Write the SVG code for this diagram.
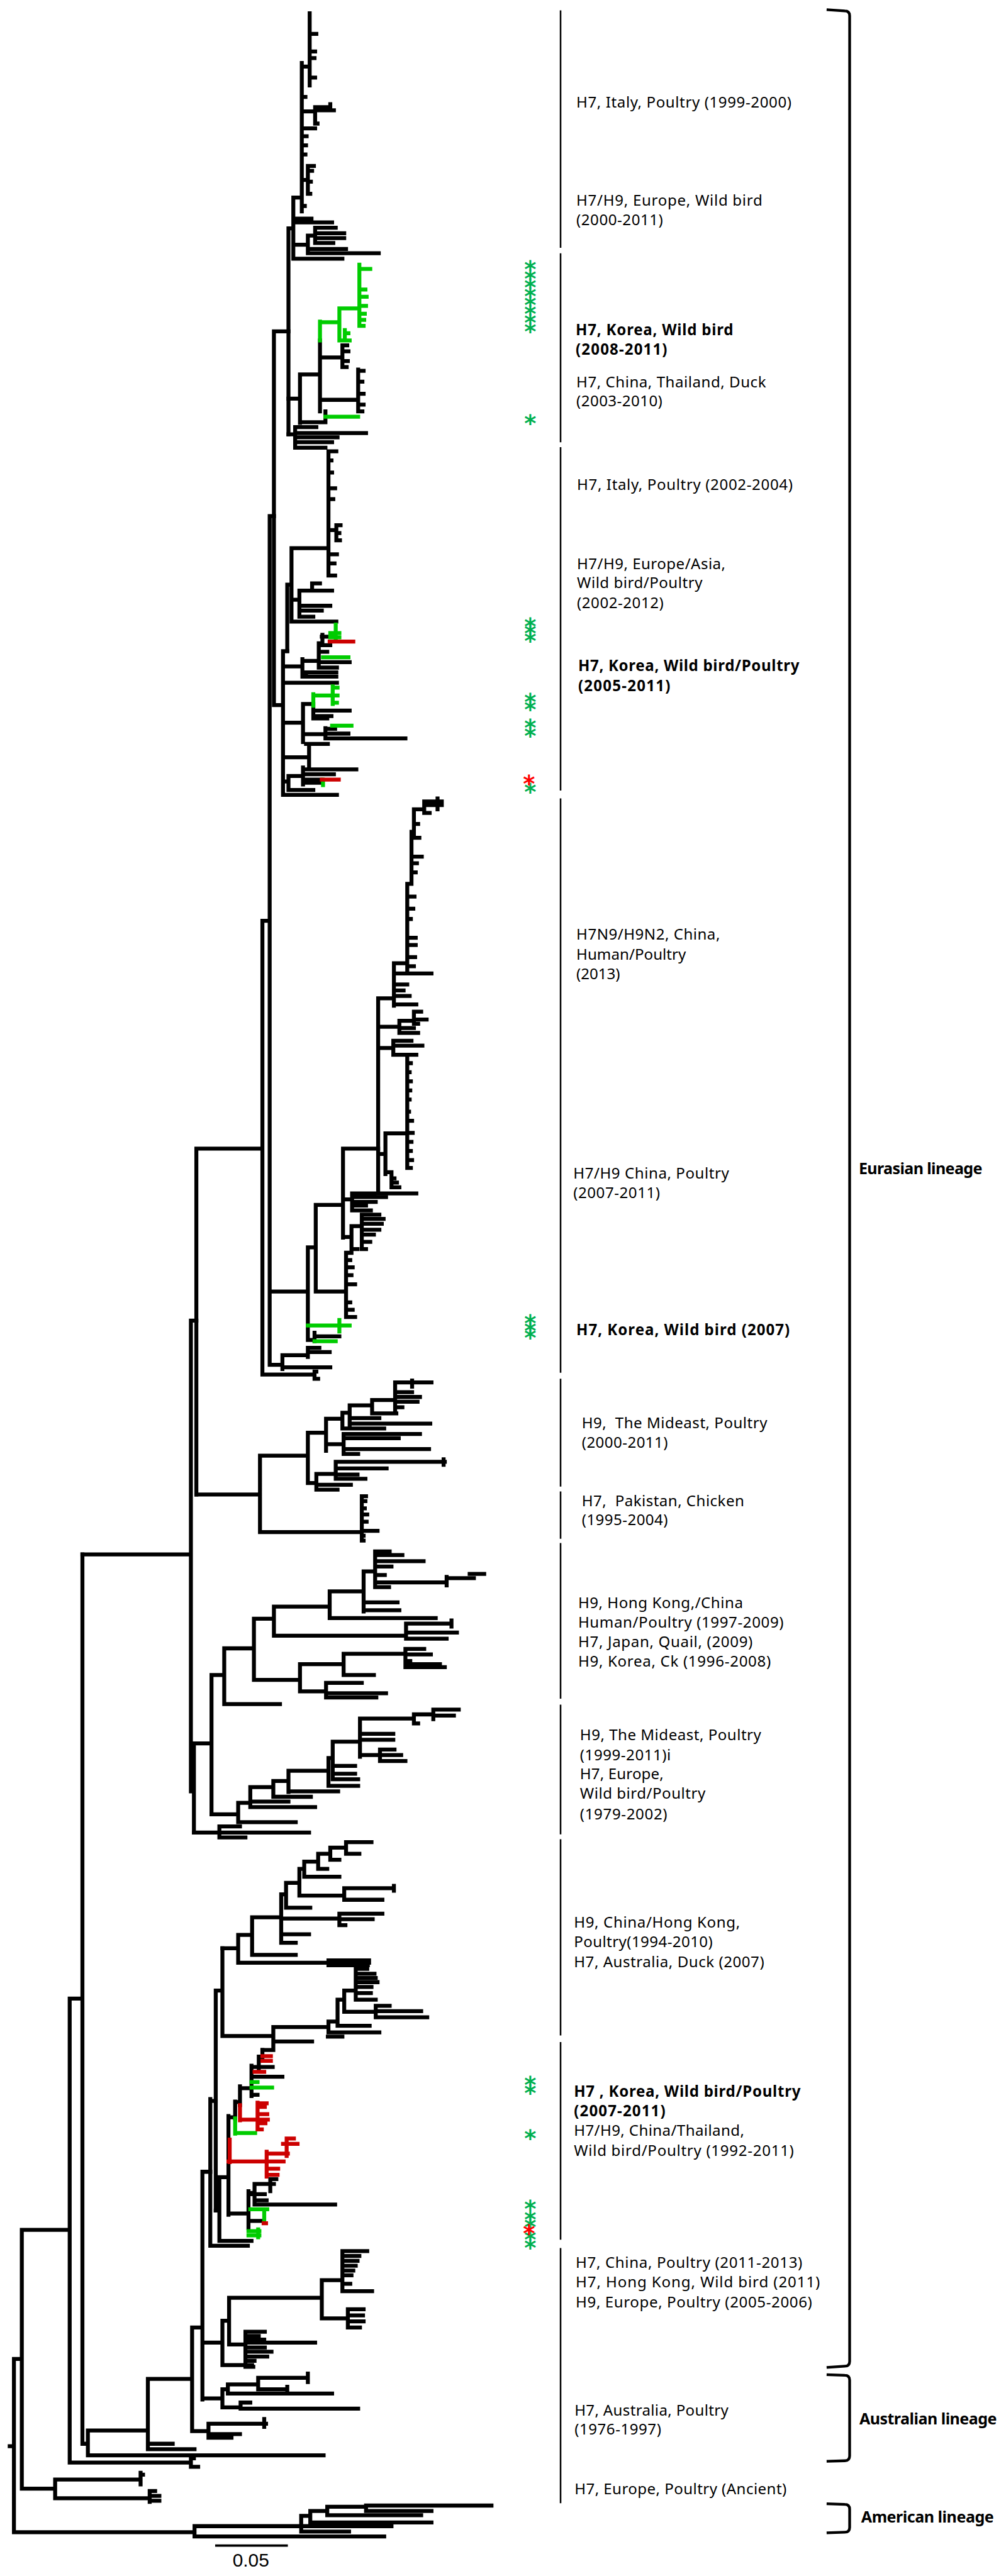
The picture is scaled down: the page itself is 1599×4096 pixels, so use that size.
<svg xmlns="http://www.w3.org/2000/svg" width="1599" height="4096" viewBox="0 0 1599 4096">
<style>
.k{fill:none;stroke:#000;stroke-width:6.5;stroke-linecap:square}
.g{fill:none;stroke:#00cc00;stroke-width:6.5;stroke-linecap:square}
.r{fill:none;stroke:#cc0000;stroke-width:6.5;stroke-linecap:square}
.sep{fill:none;stroke:#000;stroke-width:2.6}
.br{fill:none;stroke:#000;stroke-width:4.5}
.t{font-family:"Noto Sans","Liberation Sans",sans-serif;font-size:25px;fill:#000}
.b{font-family:"Noto Sans","Liberation Sans",sans-serif;font-size:25px;font-weight:bold;fill:#000}
.lin{font-family:"Noto Sans","Liberation Sans",sans-serif;font-size:26px;font-weight:bold;fill:#000}
.ag{font-family:"DejaVu Sans",sans-serif;font-size:38px;font-weight:bold;fill:#00b050;text-anchor:middle}
.ar{font-family:"DejaVu Sans",sans-serif;font-size:38px;font-weight:bold;fill:#ff0000;text-anchor:middle}
</style>
<rect width="1599" height="4096" fill="#fff"/>
<g transform="scale(0.96325)">
<g id="connectors">
<path class="k" d="M511 22V141M498 104V349M498 110H511M511 56H522M511 85H520M511 96H519M511 128H520M498 160H504M498 184H520M520 177V204M520 177H545M545 172V182M520 182H551M520 204H524M498 212H520M498 225H506M498 240H505M498 255H504M508 274V320M508 274H518M508 282H515M508 300H513M508 320H512M498 297H508M484 326H498M484 326V427M498 340H503M484 361H514M484 367H548M520 376V401M520 376H554M520 385H568M520 393H568M520 401H550M508 389H520M508 389V418M508 411H571M508 418H625M484 404H508M484 427H565M476 377H484M476 377V717"/>
<path class="k" d="M528 562V679M528 590H565M565 570V606M565 570H573M565 580H575M565 596H574M565 606H572M528 660H591M591 610V679M591 612H600M591 630H598M591 650H600M591 668H600M591 679H598M495 618V698M495 618H528M495 697H537M537 679V697M476 658H495M476 717H487M487 705V739M487 705H522M487 715H604M487 722H557M487 730H548M487 739H537"/>
<path class="g" d="M528 531V562M528 532H560M560 509V562M560 509H593M593 437V538M593 444H611M593 478H603M593 490H605M593 505H604M593 518H602M593 528H601M593 538H600M560 562H577M569 545V562M569 550H575M537 688H591"/>
<path class="k" d="M542 745V950M542 745H555M542 760H547M542 780H548M542 806H553M542 824H550M555 867V892M542 875H555M555 867H562M555 880H560M555 892H561M542 915H556M542 930H552M542 950H553M481 905H542M481 905V1026M474 965H481M474 965V1075M494 975V1018M481 990H494M494 975H548M494 1000H545M494 1008H531M494 1018H517M515 963H528M515 963V975M481 1026H555"/>
<path class="k" d="M452 547V1164M452 547H476M452 1164H467M467 1075V1312M467 1075H474M532 1048V1063M526 1062V1102M526 1065H545M526 1076H540M531 1051H545M526 1093H577M526 1102H556M499 1088V1117M499 1091H526M505 1110H555M505 1117H555M499 1112H505M467 1100H499M467 1127H556M500 1162V1225M467 1193H500M500 1162H517M517 1165V1183M517 1173H577M517 1182H547M517 1186H540M500 1212H537M537 1202V1219M537 1203H553M537 1211H575M537 1219H669M505 1228H541M510 1228V1267M467 1250H510M500 1270H588M500 1267V1295M500 1278H551M500 1287H531M500 1292H532M476 1281V1304M467 1290H476M476 1281H500M476 1304H517M467 1312H556"/>
<path class="g" d="M545 1051H548M554 1031V1054M545 1045H560M545 1052H560M533 1085H575M517 1146V1165M517 1148H550M549 1133V1162M549 1135H557M549 1148H557M549 1160H556M548 1198H580M533 1287V1296"/>
<path class="r" d="M544 1059H583M531 1287H559"/>
<path class="k" d="M445 852V2253M445 852H452M433 1520V2269M433 1520H445M324 1896V2467M324 1896H433M445 2132H508M508 2059V2212M508 2059H521M521 1989V2132M521 2132H571M571 2068V2174M571 2068H580M571 2080H578M571 2092H582M571 2105H580M571 2120H586M571 2150H578M571 2162H582M571 2174H586M521 1989H566M566 1896V2043M566 1896H624M566 1980H581M581 1970V1998M581 1970H618M581 1976H637M581 1984H620M581 1990H604M581 1998H612M566 2042H580M580 2024V2062M580 2024H597M597 2005V2062M597 2005H626M597 2012H633M597 2020H630M597 2030H626M597 2038H617M597 2050H611M597 2062H604M580 2062H590M508 2212H519M519 2200V2214M519 2206H560M445 2253H466M466 2237V2260M466 2237H508M508 2225V2240M508 2225H527M508 2232H544M466 2257H545M433 2269H519M519 2264V2276M519 2264H522M519 2276H525"/>
<path class="g" d="M508 2188H577M560 2179V2198M519 2214H554"/>
<path class="k" d="M624 1648V1970M624 1648H650M650 1590V1660M650 1590H672M672 1459V1606M672 1459H679M679 1373V1459M679 1373H683M683 1336V1383M683 1336H700M700 1323V1342M700 1323H729M722 1318V1336M700 1329H729M700 1342H709M683 1360H690M683 1383H692M679 1414H696M679 1425H688M679 1440H686M672 1480H684M672 1500H682M672 1517H678M672 1548H686M672 1560H686M672 1580H685M672 1595H683M650 1607H712M650 1625H672M650 1635H666M650 1644H676M650 1658H687M624 1695H659M659 1685V1705M659 1685H683M683 1670V1690M683 1670H695M683 1683H704M683 1690H690M659 1705H690M659 1697H683M624 1730H649M649 1718V1741M649 1718H679M649 1726H697M649 1741H687M624 1905H636M636 1871V1938M636 1871H672M672 1746V1928M672 1755H678M672 1770H676M672 1785H678M672 1800H677M672 1815H676M672 1835H675M672 1850H680M672 1870H681M672 1885H679M672 1900H678M672 1915H680M672 1928H678M636 1935H646M646 1935V1960M646 1945H651M646 1952H655M646 1960H659M624 1970H687"/>
<path class="k" d="M324 2467H429M429 2403V2529M429 2403H508M508 2365V2448M508 2365H538M538 2342V2395M538 2342H565M565 2332V2358M565 2332H577M577 2320V2352M577 2320H614M614 2311V2333M614 2311H652M652 2282V2327M652 2282H712M680 2279V2289M652 2298H680M652 2306H693M652 2314H689M652 2323H664M614 2333H654M577 2341H626M577 2350H710M565 2358H634M538 2384H567M567 2367V2400M567 2367H693M567 2374H658M567 2392H708M567 2400H591M508 2448H522M522 2433V2459M522 2433H554M554 2413V2441M554 2413H734M732 2409V2418M554 2424H638M554 2434H590M554 2441H603M522 2451H579M522 2459H557M429 2529H597M597 2470V2543M597 2470H604M597 2478H603M597 2490H602M597 2500H606M597 2512H605M597 2527H623M597 2535H600M597 2543H600"/>
<path class="k" d="M315 2180V2957M315 2180H324M136 2566H315M320 2878V3025M315 2951H320M320 2878H349M349 2765V2995M349 2765H370M370 2721V2813M370 2721H419M419 2672V2773M419 2672H452M452 2652V2700M452 2652H544M544 2627V2671M544 2671H719M544 2627H600M600 2594V2660M600 2645H656M600 2658H659M600 2594H619M619 2561V2620M619 2561H643M619 2567H664M619 2577H699M619 2586H646M619 2600H635M619 2612H737M737 2603V2617M737 2605H782M775 2598H799M619 2620H642M452 2700H670M670 2680V2705M670 2680H745M745 2675V2685M670 2695H754M670 2705H737M419 2773H495M495 2747V2792M495 2747H567M567 2730V2765M567 2730H669M669 2722V2752M669 2722H700M669 2731H711M669 2742H677M669 2747H726M669 2752H734M567 2765H617M495 2792H538M538 2778V2802M538 2778H597M538 2795H637M538 2802H621M370 2813H462"/>
<path class="k" d="M349 2995H393M393 2976V3008M393 2976H413M413 2950V2983M413 2950H451M451 2940V2966M451 2940H476M476 2923V2958M476 2923H542M542 2902V2948M542 2902H549M549 2875V2937M549 2875H594M594 2837V2900M594 2837H683M683 2830V2845M683 2830H715M715 2822V2838M715 2822H757M715 2832H749M683 2845H690M594 2862H649M594 2872H649M594 2897H627M627 2888V2907M627 2888H651M627 2897H662M627 2907H669M549 2915H586M549 2928H586M549 2937H591M542 2948H591M476 2957H558M451 2966H513M413 2974H476M413 2983H520M393 3008H488M320 3025H362M362 3015V3033M362 3015H396M362 3025H510M362 3033H405"/>
<path class="k" d="M367 3216H393M393 3194V3240M393 3194H416M393 3240H609M542 3236H609M542 3244H607M416 3165V3227M416 3165H464M416 3227H488M464 3127V3207M464 3127H472M472 3108V3149M472 3108H494M494 3085V3129M494 3085H502M502 3073V3098M502 3073H525M525 3060V3085M525 3060H545M545 3050V3070M545 3050H571M571 3041V3060M571 3041H613M571 3060H593M545 3070H560M525 3085H540M502 3098H560M494 3129H568M568 3117V3136M568 3117H650M650 3113V3121M568 3136H631M472 3149H512M464 3167H560M560 3159V3178M560 3159H631M560 3168H615M560 3178H570M464 3193H510M464 3207H488"/>
<path class="k" d="M367 3216V3361M356 3286H367M356 3286V3649M367 3361H451M451 3346V3384M451 3346H542M542 3337V3355M542 3337H557M557 3301V3344M557 3301H568M568 3286V3321M568 3286H587M587 3250V3301M587 3250H606M587 3258H618M587 3265H620M587 3272H623M587 3280H613M587 3290H612M587 3301H620M568 3321H620M620 3311V3330M620 3311H643M620 3320H695M620 3330H705M557 3344H610M542 3355H626M455 3370H515M541 3362H565M451 3384H433"/>
<path class="k" d="M362 3594V3699M356 3649H362M362 3594H377M362 3699H415M377 3493V3656M377 3495H388M388 3469V3497M388 3470H396M396 3444V3475M396 3447H415M415 3410V3460M415 3412H427M427 3395V3415M427 3396H433M433 3384V3400M415 3412H450M415 3428H466M415 3458H425M377 3654H410M410 3617V3678M410 3620H420M420 3605V3637M420 3605H452M446 3597V3617M446 3597H456M410 3622H437M420 3632H440M420 3639H553M410 3666H435M347 3465V3707M347 3468H356M347 3707H409"/>
<path class="g" d="M388 3497V3522M388 3521H421M415 3437H425M415 3446H449M413 3647H441M436 3653V3664M410 3683H428M410 3690H428M426 3680V3693"/>
<path class="r" d="M396 3475V3500M396 3499H442M425 3471V3515M425 3472H440M425 3478H437M425 3490H441M425 3505H438M425 3515H432M433 3394H447M433 3402H447M420 3420H436M379 3532V3569M377 3568H468M440 3552V3593M440 3555H475M473 3530V3559M473 3530H485M467 3539H491M440 3580H459M440 3590H458M435 3670H439"/>
<path class="k" d="M334 3585V3961M334 3585H347M317 3842H334M334 3867H367M367 3831V3904M367 3831H378M378 3793V3870M378 3793H531M531 3764V3827M531 3764H565M565 3716V3782M565 3716H606M565 3724H593M565 3732H590M565 3740H587M565 3748H583M565 3756H580M565 3770H578M565 3782H614M531 3827H574M574 3812V3842M574 3812H600M574 3822H599M574 3832H600M574 3842H594M378 3870H405M405 3849V3907M405 3849H437M405 3856H427M405 3862H436M405 3867H520M405 3875H437M405 3882H448M405 3890H441M405 3897H420M405 3907H418M367 3904H416M334 3959H367M367 3944V3974M367 3944H376M376 3936V3951M376 3936H426M426 3925V3944M426 3925H508M508 3918V3932M426 3944H474M474 3940V3948M376 3951H548M367 3974H397M397 3966V3976M397 3976H591M397 3966H413M317 3842V4013M317 4013H344M344 4001V4024M344 4001H439M436 3993V4006M344 4018H396M344 4024H382M244 3927V4043M244 3927H317M244 4034H285M244 4043H321M145 4012V4053M145 4012H244M145 4053H534M136 2566V4034M136 4034H145M115 3299V4065M115 3299H136M115 4065H315M315 4058V4072M315 4058H320M315 4072H327M36 3681V4108M36 3681H115M36 4108H91M91 4093V4124M91 4093H232M232 4082V4101M232 4085H236M91 4124H247M247 4112V4130M247 4112H256M247 4120H263M247 4128H263M23 3894V4180M23 3894H36M16 4038H23M23 4180H321M321 4170V4187M321 4170H646M321 4187H634M497 4153V4179M497 4153H512M512 4145V4164M512 4145H540M540 4138V4152M540 4138H604M604 4136V4145M604 4136H811M604 4145H712M540 4152H695M512 4164H712M497 4179H576"/>
</g>
<g id="separators">
<path class="sep" d="M925 17V409M925 418V730M925 738V1305M925 1318V2266M925 2276V2454M925 2462V2540M925 2547V2804M925 2814V3028M925 3036V3360M925 3371V3697M925 3711V4132"/>
</g>
<g id="brackets">
<path class="br" d="M1364 16L1394 18Q1402 18 1402 26V3898Q1402 3906 1394 3906L1364 3908"/>
<path class="br" d="M1364 3920L1394 3921Q1402 3921 1402 3929V4054Q1402 4062 1394 4062L1364 4063"/>
<path class="br" d="M1364 4133L1394 4134Q1402 4134 1402 4142V4172Q1402 4180 1394 4180L1364 4181"/>
</g>
<g id="lineage-eurasian"><text class="lin" x="1417" y="1938" textLength="204">Eurasian lineage</text></g>
<g id="lineage-australian"><text class="lin" x="1418" y="4002" textLength="227">Australian lineage</text></g>
<g id="lineage-american"><text class="lin" x="1421" y="4164" textLength="219">American lineage</text></g>
<g id="label-italy-1999"><text class="t" x="951" y="178" textLength="355">H7, Italy, Poultry (1999-2000)</text></g>
<g id="label-europe-wild"><text class="t" x="951" y="339" textLength="307">H7/H9, Europe, Wild bird</text><text class="t" x="951" y="372" textLength="143">(2000-2011)</text></g>
<g id="label-korea-2008"><text class="b" x="950" y="553" textLength="260">H7, Korea, Wild bird</text><text class="b" x="950" y="585" textLength="151">(2008-2011)</text></g>
<g id="label-china-thailand-duck"><text class="t" x="951" y="639" textLength="313">H7, China, Thailand, Duck</text><text class="t" x="951" y="671" textLength="142">(2003-2010)</text></g>
<g id="label-italy-2002"><text class="t" x="952" y="809" textLength="356">H7, Italy, Poultry (2002-2004)</text></g>
<g id="label-europe-asia"><text class="t" x="952" y="940" textLength="245">H7/H9, Europe/Asia,</text><text class="t" x="952" y="971" textLength="207">Wild bird/Poultry</text><text class="t" x="952" y="1004" textLength="143">(2002-2012)</text></g>
<g id="label-korea-2005"><text class="b" x="954" y="1108" textLength="365">H7, Korea, Wild bird/Poultry</text><text class="b" x="954" y="1141" textLength="152">(2005-2011)</text></g>
<g id="label-h7n9"><text class="t" x="951" y="1551" textLength="237">H7N9/H9N2, China,</text><text class="t" x="951" y="1584" textLength="181">Human/Poultry</text><text class="t" x="951" y="1616" textLength="72">(2013)</text></g>
<g id="label-china-poultry-2007"><text class="t" x="946" y="1945" textLength="257">H7/H9 China, Poultry</text><text class="t" x="946" y="1978" textLength="143">(2007-2011)</text></g>
<g id="label-korea-2007"><text class="b" x="951" y="2204" textLength="352">H7, Korea, Wild bird (2007)</text></g>
<g id="label-mideast-2000"><text class="t" x="960" y="2358" textLength="306" xml:space="preserve">H9,  The Mideast, Poultry</text><text class="t" x="960" y="2390" textLength="142">(2000-2011)</text></g>
<g id="label-pakistan"><text class="t" x="960" y="2486" textLength="268" xml:space="preserve">H7,  Pakistan, Chicken</text><text class="t" x="960" y="2518" textLength="142">(1995-2004)</text></g>
<g id="label-hongkong-china"><text class="t" x="954" y="2655" textLength="272">H9, Hong Kong,/China</text><text class="t" x="954" y="2687" textLength="339">Human/Poultry (1997-2009)</text><text class="t" x="954" y="2719" textLength="288">H7, Japan, Quail, (2009)</text><text class="t" x="954" y="2751" textLength="318">H9, Korea, Ck (1996-2008)</text></g>
<g id="label-mideast-1999"><text class="t" x="957" y="2873" textLength="299">H9, The Mideast, Poultry</text><text class="t" x="957" y="2906" textLength="150">(1999-2011)i</text><text class="t" x="957" y="2937" textLength="138">H7, Europe,</text><text class="t" x="957" y="2969" textLength="207">Wild bird/Poultry</text><text class="t" x="957" y="3003" textLength="144">(1979-2002)</text></g>
<g id="label-china-hk-1994"><text class="t" x="947" y="3182" textLength="274">H9, China/Hong Kong,</text><text class="t" x="947" y="3214" textLength="229">Poultry(1994-2010)</text><text class="t" x="947" y="3247" textLength="314">H7, Australia, Duck (2007)</text></g>
<g id="label-korea-2007-2011"><text class="b" x="947" y="3461" textLength="374">H7 , Korea, Wild bird/Poultry</text><text class="b" x="947" y="3493" textLength="151">(2007-2011)</text><text class="t" x="947" y="3526" textLength="281">H7/H9, China/Thailand,</text><text class="t" x="947" y="3559" textLength="363">Wild bird/Poultry (1992-2011)</text></g>
<g id="label-china-2011"><text class="t" x="950" y="3744" textLength="374">H7, China, Poultry (2011-2013)</text><text class="t" x="950" y="3776" textLength="403">H7, Hong Kong, Wild bird (2011)</text><text class="t" x="950" y="3809" textLength="390">H9, Europe, Poultry (2005-2006)</text></g>
<g id="label-australia"><text class="t" x="948" y="3988" textLength="254">H7, Australia, Poultry</text><text class="t" x="948" y="4019" textLength="143">(1976-1997)</text></g>
<g id="label-ancient"><text class="t" x="948" y="4117" textLength="350">H7, Europe, Poultry (Ancient)</text></g>
<g id="asterisks">
<text class="ag" x="875" y="458">*<tspan x="875" y="473">*</tspan><tspan x="875" y="488">*</tspan><tspan x="875" y="502">*</tspan><tspan x="875" y="517">*</tspan><tspan x="875" y="532">*</tspan><tspan x="875" y="546">*</tspan><tspan x="875" y="561">*</tspan></text>
<text class="ag" x="875" y="712">*</text>
<text class="ag" x="875" y="1047">*<tspan x="875" y="1059">*</tspan><tspan x="875" y="1071">*</tspan></text>
<text class="ag" x="875" y="1172">*<tspan x="875" y="1185">*</tspan></text>
<text class="ag" x="875" y="1215">*<tspan x="875" y="1228">*</tspan></text>
<text class="ag" x="875" y="1321">*</text>
<text class="ar" x="873" y="1307">*</text>
<text class="ag" x="875" y="2198">*<tspan x="875" y="2210">*</tspan><tspan x="875" y="2222">*</tspan></text>
<text class="ag" x="875" y="3455">*<tspan x="875" y="3468">*</tspan></text>
<text class="ag" x="875" y="3543">*</text>
<text class="ag" x="875" y="3660">*<tspan x="875" y="3677">*</tspan><tspan x="875" y="3690">*</tspan><tspan x="875" y="3710">*</tspan><tspan x="875" y="3724">*</tspan></text>
<text class="ar" x="873" y="3700">*</text>
</g>
<g id="scale-bar">
<path d="M355 4202H475" stroke="#000" stroke-width="4" fill="none"/>
<text x="414" y="4237" text-anchor="middle" font-family="Liberation Sans, sans-serif" font-size="31" fill="#000">0.05</text>
</g>
</g>
</svg>
